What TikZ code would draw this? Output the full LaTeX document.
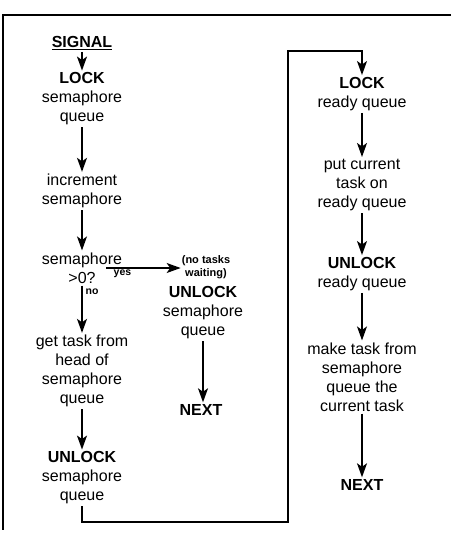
\documentclass[tikz,border=0pt]{standalone}
\usepackage{fontspec}
\setmainfont{Liberation Sans}
\usetikzlibrary{arrows.meta}
\begin{document}
\begin{tikzpicture}[x=1pt,y=-1pt,
  box/.style={align=center,inner sep=2pt,font=\fontsize{16}{19}\selectfont},
  small/.style={align=center,inner sep=1pt,font=\fontsize{11}{13}\selectfont\bfseries},
  lbl/.style={inner sep=0pt,font=\fontsize{10.5}{12}\selectfont\bfseries},
  arr/.style={line width=1.4pt,-{Stealth[length=14pt,width=10pt,inset=3.5pt]}},
  ln/.style={line width=1.3pt}]
\useasboundingbox (0,0) rectangle (451,539);
% frame
\draw[ln] (451,15) -- (3,15) -- (3,530);
% left column
\node[box] (sig) at (82,43) {\bfseries\underline{SIGNAL}};
\node[box] (lock1) at (82,99) {\bfseries LOCK\\semaphore\\queue};
\node[box] (inc) at (82,191) {increment\\semaphore};
\node[box] (dec) at (82,268) {semaphore\\\textgreater 0?};
\node[box] (get) at (82,371) {get task from\\head of\\semaphore\\queue};
\node[box] (unl1) at (82,478) {\bfseries UNLOCK\\semaphore\\queue};
% middle
\node[small] (nt) at (206,267) {(no tasks\\waiting)};
\node[box] (unl2) at (203,313) {\bfseries UNLOCK\\semaphore\\queue};
\node[box] (next1) at (201,410) {\bfseries NEXT};
% right column
\node[box] (lock2) at (362,94) {\bfseries LOCK\\ready queue};
\node[box] (put) at (362,185) {put current\\task on\\ready queue};
\node[box] (unl3) at (362,274) {\bfseries UNLOCK\\ready queue};
\node[box] (make) at (362,377) {make task from\\semaphore\\queue the\\current task};
\node[box] (next2) at (362,485) {\bfseries NEXT};
% arrows
\draw[arr] (sig) -- (lock1);
\draw[arr] (lock1) -- (inc);
\draw[arr] (inc) -- (dec);
\draw[arr] (dec) -- node[lbl,right=3pt,pos=0.12] (no) {no} (get);
\draw[arr] (get) -- (unl1);
\coordinate (ys) at (106,268);
\draw[arr] (ys) -- node[lbl,below=1.5pt,pos=0.22] (yes) {yes} (ys -| nt.west);
\draw[arr] (unl2.south) -- (unl2.south |- next1.north);
\coordinate (c1) at (82,522);
\coordinate (c2) at (288,522);
\coordinate (c3) at (288,51);
\draw[arr] (unl1.south) -- (c1) -- (c2) -- (c3) -| (lock2.north);
\draw[arr] (lock2) -- (put);
\draw[arr] (put) -- (unl3);
\draw[arr] (unl3) -- (make);
\draw[arr] (make) -- (next2);
\end{tikzpicture}
\end{document}
